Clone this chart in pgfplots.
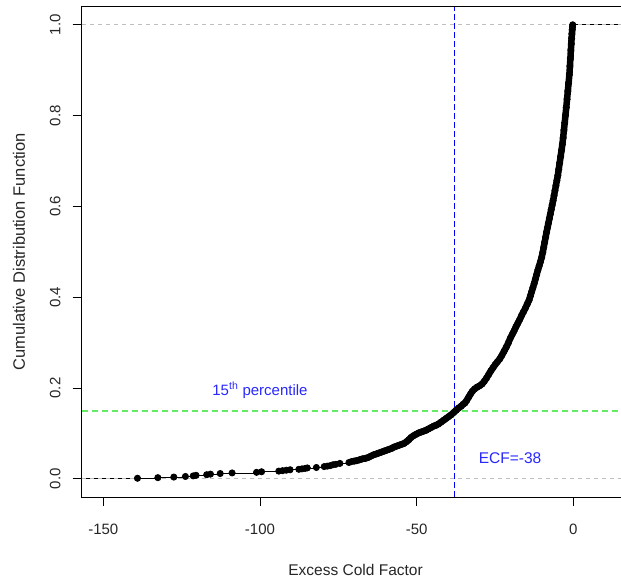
\documentclass[border=0pt]{standalone}
\usepackage{fontspec}
\setmainfont{Liberation Sans}
\usepackage{pgfplots}
\usepackage{pgfplotstable}
\pgfplotsset{compat=1.18}
\definecolor{refgray}{RGB}{190,190,190}
\definecolor{refgreen}{RGB}{100,235,100}
\definecolor{refblue}{RGB}{40,40,255}
\pgfplotstableread{
x y
-139.1 0.0013
-132.6 0.0026
-127.5 0.0039
-123.8 0.0052
-121.3 0.0065
-120.4 0.0078
-117.0 0.0091
-115.8 0.0104
-112.7 0.0117
-108.9 0.0130
-101.1 0.0143
-99.5 0.0156
-94.0 0.0170
-92.8 0.0180
-91.6 0.0190
-90.4 0.0200
-87.6 0.0210
-86.6 0.0220
-85.6 0.0230
-84.9 0.0240
-82.0 0.0250
-79.5 0.0270
-78.5 0.0280
-77.6 0.0290
-76.7 0.0310
-75.8 0.0320
-74.5 0.0340
-71.6 0.0360
-70.8 0.0380
-70.0 0.0390
-69.2 0.0400
-68.2 0.0420
-67.3 0.0440
-66.4 0.0450
-65.5 0.0470
-64.6 0.0500
-63.7 0.0530
-62.8 0.0550
-62.0 0.0570
-61.2 0.059
-60.4 0.061
-59.6 0.063
-58.8 0.065
-58.0 0.067
-57.2 0.070
-56.4 0.072
-55.6 0.074
-54.8 0.076
-54.0 0.078
-53.2 0.082
-52.5 0.086
-51.8 0.091
-51.0 0.095
-50.2 0.098
-49.4 0.101
-48.6 0.103
-47.8 0.105
-47.0 0.107
-46.2 0.110
-45.4 0.113
-44.6 0.116
-43.8 0.118
-43.0 0.121
-42.2 0.125
-41.4 0.129
-40.6 0.133
-39.8 0.137
-39.0 0.141
-38.2 0.146
-37.4 0.151
-36.6 0.156
-35.8 0.160
-35.2 0.164
-34.6 0.167
-34.0 0.173
-33.4 0.180
-32.8 0.187
-32.2 0.193
-31.5 0.198
-30.7 0.202
-29.9 0.205
-29.1 0.209
-28.4 0.215
-27.7 0.222
-27.0 0.230
-26.3 0.238
-25.6 0.245
-24.9 0.252
-24.2 0.258
-23.5 0.264
-22.8 0.272
-22.1 0.281
-21.4 0.290
-20.7 0.300
-20.1 0.310
-19.5 0.318
-18.9 0.326
-18.3 0.335
-17.7 0.343
-17.1 0.351
-16.5 0.360
-15.9 0.368
-15.3 0.376
-14.7 0.385
-14.1 0.394
-13.7 0.403
-13.3 0.412
-12.9 0.421
-12.5 0.430
-12.1 0.440
-11.7 0.450
-11.3 0.460
-10.9 0.469
-10.5 0.478
-10.1 0.488
-9.75 0.499
-9.45 0.510
-9.15 0.521
-8.85 0.532
-8.55 0.543
-8.25 0.553
-7.95 0.563
-7.65 0.573
-7.35 0.583
-7.05 0.593
-6.75 0.603
-6.45 0.613
-6.15 0.624
-5.85 0.635
-5.55 0.646
-5.25 0.657
-4.95 0.668
-4.65 0.682
-4.35 0.696
-4.05 0.710
-3.75 0.724
-3.5 0.737
-3.25 0.751
-3.0 0.768
-2.75 0.784
-2.5 0.801
-2.25 0.818
-2.0 0.836
-1.75 0.854
-1.5 0.872
-1.25 0.891
-1.08 0.909
-0.93 0.926
-0.78 0.944
-0.65 0.958
-0.55 0.970
-0.45 0.980
-0.35 0.989
-0.27 0.995
-0.2 1.000
}\ecdf
\begin{document}
\begin{tikzpicture}
\begin{axis}[
  scale only axis,
  width=547.7pt, height=490.3pt,
  xmin=-156.9, xmax=17.9, ymin=-0.04, ymax=1.04,
  axis line style={black, line width=0.8pt},
  xtick={-150,-100,-50,0},
  xticklabels={-150,-100,-50,0},
  ytick={0,0.2,0.4,0.6,0.8,1.0},
  yticklabels={0.0,0.2,0.4,0.6,0.8,1.0},
  tick align=outside,
  major tick length=9pt,
  xtick pos=bottom, ytick pos=left,
  tick style={black, line width=0.8pt},
  ticklabel style={font=\fontsize{15}{18}\selectfont, text=black!85},
  xticklabel style={anchor=north, inner sep=0pt},
  xticklabel shift=18pt,
  yticklabel style={rotate=90, anchor=south, inner sep=0pt},
  yticklabel shift=12pt,
  xlabel={Excess Cold Factor},
  ylabel={Cumulative Distribution Function},
  every axis x label/.style={at={(axis description cs:0.5,-0.1591)}, anchor=base, font=\fontsize{15.5}{18}\selectfont, text=black!85},
  every axis y label/.style={at={(axis description cs:-0.1145,0.5)}, anchor=center, rotate=90, font=\fontsize{16.5}{18}\selectfont, text=black!85},
  clip=true,
]
% step function extensions
\addplot[black, line width=0.8pt] coordinates {(-156.9,0) (-139.1,0)};
\addplot[black, line width=0.8pt] coordinates {(-0.2,1) (17.9,1)};
% reference lines
\addplot[refgray, line width=0.8pt, dash pattern=on 4pt off 4pt] coordinates {(-156.9,0) (17.9,0)};
\addplot[refgray, line width=0.8pt, dash pattern=on 4pt off 4pt] coordinates {(-156.9,1) (17.9,1)};
% ECDF
\addplot[black, line width=6.5pt, line join=round, line cap=round] table[restrict x to domain=-70:0] {\ecdf};
\addplot[black, line width=0.8pt, const plot mark left, mark=*, mark size=3.1pt, mark options={solid}] table {\ecdf};
% percentile lines
\addplot[refgreen, line width=1.6pt, dash pattern=on 6pt off 4pt] coordinates {(-156.9,0.15) (17.9,0.15)};
\addplot[blue, line width=0.8pt, dash pattern=on 6pt off 3pt] coordinates {(-38,-0.04) (-38,1.04)};
\node[text=refblue, font=\fontsize{15}{18}\selectfont, anchor=center] at (axis cs:-100,0.195) {15\textsuperscript{th} percentile};
\node[text=refblue, font=\fontsize{15.5}{18}\selectfont, anchor=center] at (axis cs:-20.2,0.046) {ECF=-38};
\end{axis}
\pgfresetboundingbox
\path[use as bounding box] ([xshift=-81.7pt,yshift=-83pt]current axis.south west) rectangle ([xshift=-8.4pt,yshift=6.7pt]current axis.north east);
\end{tikzpicture}
\end{document}
